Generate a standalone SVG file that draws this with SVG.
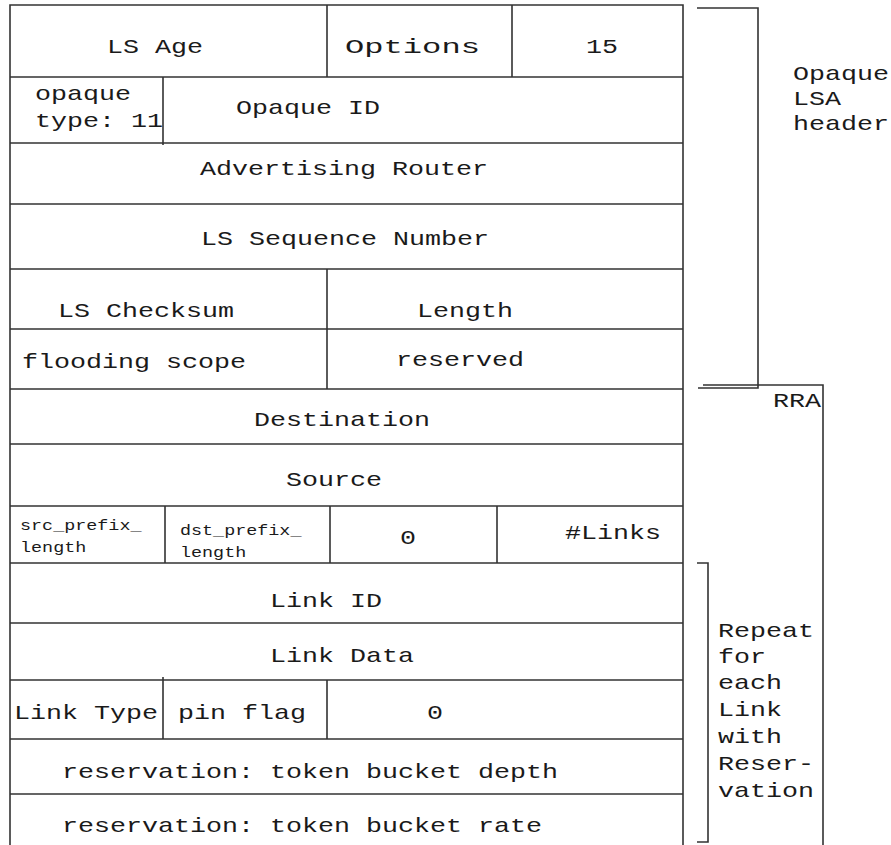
<svg xmlns="http://www.w3.org/2000/svg" width="891" height="845" viewBox="0 0 891 845">
<style>
  .ln { stroke: #333; stroke-width: 1.6; fill: none; }
  text { font-family: "Liberation Mono", "Courier New", monospace; font-size: 21px; fill: #1a1a1a; }
  .c { text-anchor: middle; }
  .sm { font-size: 14.5px; }
  .r { text-anchor: end; }
</style>
<rect width="891" height="845" fill="#fff"/>
<g id="frame" class="ln">
  <path d="M10,845 V5 H683 V845"/>
</g>
<g id="row-lines" class="ln">
  <path d="M10,77 H683 M10,143 H683 M10,204 H683 M10,269 H683 M10,329 H683 M10,389 H683 M10,444 H683 M10,506 H683 M10,563 H683 M10,623 H683 M10,680 H683 M10,739 H683 M10,794 H683"/>
</g>
<g id="row1">
  <path class="ln" d="M327,5 V77 M512,5 V77"/>
  <g transform="scale(1.27 1)">
    <text class="c" x="122.05" y="53">LS Age</text>
    <text x="271.65" y="53" textLength="106.3" lengthAdjust="spacingAndGlyphs">Options</text>
    <text class="c" x="474.02" y="53">15</text>
  </g>
</g>
<g id="row2">
  <path class="ln" d="M163,77 V145"/>
  <g transform="scale(1.27 1)">
    <text x="27.56" y="100">opaque</text>
    <text x="27.56" y="127">type: 11</text>
    <text class="c" x="242.52" y="114">Opaque ID</text>
  </g>
</g>
<g id="row3">
  <g transform="scale(1.27 1)"><text class="c" x="270.87" y="175">Advertising Router</text></g>
</g>
<g id="row4">
  <g transform="scale(1.27 1)"><text class="c" x="271.65" y="245">LS Sequence Number</text></g>
</g>
<g id="row5">
  <path class="ln" d="M327,269 V389"/>
  <g transform="scale(1.27 1)">
    <text class="c" x="114.96" y="317">LS Checksum</text>
    <text class="c" x="366.14" y="317">Length</text>
  </g>
</g>
<g id="row6">
  <g transform="scale(1.27 1)">
    <text x="17.32" y="368">flooding scope</text>
    <text class="c" x="362.20" y="366">reserved</text>
  </g>
</g>
<g id="row7">
  <g transform="scale(1.27 1)"><text class="c" x="269.29" y="426">Destination</text></g>
</g>
<g id="row8">
  <g transform="scale(1.27 1)"><text class="c" x="262.99" y="486">Source</text></g>
</g>
<g id="row9">
  <path class="ln" d="M165,506 V563 M330,506 V563 M497,506 V563"/>
  <g transform="scale(1.27 1)">
    <text class="sm" x="15.75" y="530">src_prefix_</text>
    <text class="sm" x="15.75" y="552">length</text>
    <text class="sm" x="141.73" y="535">dst_prefix_</text>
    <text class="sm" x="141.73" y="557">length</text>
    <text class="c" x="321.26" y="544">0</text>
    <text class="c" x="482.68" y="539">#Links</text>
  </g>
</g>
<g id="row10">
  <g transform="scale(1.27 1)"><text class="c" x="256.69" y="607">Link ID</text></g>
</g>
<g id="row11">
  <g transform="scale(1.27 1)"><text class="c" x="269.29" y="662">Link Data</text></g>
</g>
<g id="row12">
  <path class="ln" d="M163,677 V739 M327,680 V739"/>
  <g transform="scale(1.27 1)">
    <text x="11.02" y="719">Link Type</text>
    <text x="140.16" y="719">pin flag</text>
    <text class="c" x="342.52" y="719">0</text>
  </g>
</g>
<g id="row13">
  <g transform="scale(1.27 1)"><text x="48.82" y="778">reservation: token bucket depth</text></g>
</g>
<g id="row14">
  <g transform="scale(1.27 1)"><text x="48.82" y="832">reservation: token bucket rate</text></g>
</g>
<g id="connectors" class="ln">
  <path d="M697,8 H758 V388 H698"/>
  <path d="M703,385 H823 V845"/>
  <path d="M697,563 H708 V842 H697"/>
</g>
<g id="label-header">
  <g transform="scale(1.27 1)">
    <text x="624.41" y="80">Opaque</text>
    <text x="624.41" y="105">LSA</text>
    <text x="624.41" y="130">header</text>
  </g>
</g>
<g id="label-rra">
  <g transform="scale(1.27 1)"><text class="r" x="646.46" y="407">RRA</text></g>
</g>
<g id="label-repeat">
  <g transform="scale(1.27 1)">
    <text x="565.35" y="637">Repeat</text>
    <text x="565.35" y="663">for</text>
    <text x="565.35" y="689">each</text>
    <text x="565.35" y="716">Link</text>
    <text x="565.35" y="743">with</text>
    <text x="565.35" y="770">Reser-</text>
    <text x="565.35" y="797">vation</text>
  </g>
</g>
</svg>
